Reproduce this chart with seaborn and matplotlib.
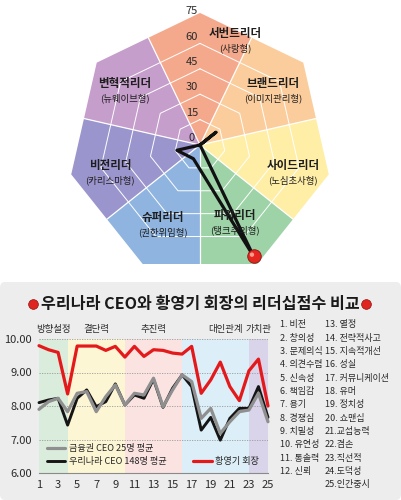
import numpy as np
import pandas as pd
import matplotlib
matplotlib.use("Agg")
import matplotlib.pyplot as plt
import seaborn as sns
from matplotlib.patches import Polygon, FancyBboxPatch
from matplotlib.lines import Line2D
from matplotlib import font_manager
import matplotlib.transforms as mtransforms

# ---------------- data ----------------
radar_types = ["서번트리더", "브랜드리더", "사이드리더", "파워리더", "슈퍼리더", "비전리더", "변혁적리더"]
radar_subtypes = ["(사랑형)", "(이미지관리형)", "(노심초사형)", "(탱크주의형)", "(권한위임형)", "(카리스마형)", "(뉴웨이브형)"]
radar_colors = ["#F5A98C", "#FBCD9C", "#FFEEA6", "#9ED3A8", "#8FB4DF", "#9B95CD", "#C59ECB"]
radar_values = [0, 12, 0, 73, 9, 14, 0]
radar_ticks = [0, 15, 30, 45, 60, 75]

items = list(range(1, 26))
score_chairman = [9.80, 9.68, 9.60, 8.36, 9.79, 9.79, 9.79, 9.66, 9.78, 9.46, 9.78, 9.48, 9.68,
                  9.66, 9.58, 9.55, 9.78, 8.38, 8.78, 9.31, 8.58, 8.16, 9.05, 9.40, 8.00]
score_finance = [7.90, 8.13, 8.23, 7.83, 8.38, 8.43, 7.83, 8.28, 8.63, 8.03, 8.38, 8.33, 8.83,
                 7.98, 8.48, 8.93, 8.73, 7.63, 7.93, 7.18, 7.53, 7.83, 7.88, 8.38, 7.53]
score_korea = [8.10, 8.18, 8.23, 7.43, 8.23, 8.48, 7.98, 8.13, 8.66, 8.03, 8.33, 8.23, 8.80,
               7.96, 8.53, 8.93, 8.58, 7.28, 7.66, 6.98, 7.63, 7.93, 7.93, 8.58, 7.66]
series_names = ["금융권 CEO 25명 평균", "우리나라 CEO 148명 평균", "황영기 회장"]

groups = ["방향설정", "결단력", "추진력", "대인관계", "가치관"]
group_bounds = [1, 4, 10, 16, 23, 25]
group_colors = ["#DAECDC", "#FDF6D4", "#FBE3E2", "#DCEEF7", "#D9D4EA"]

item_names = ["1. 비전", "2. 창의성", "3. 문제의식", "4. 의견수렴", "5. 신속성", "6. 책임감",
              "7. 용기", "8. 경쟁심", "9. 치밀성", "10. 유연성", "11. 통솔력", "12. 신뢰",
              "13. 열정", "14. 전략적사고", "15. 지속적개선", "16. 성실", "17. 커뮤니케이션",
              "18. 유머", "19. 정치성", "20. 쇼맨십", "21.교섭능력", "22.겸손", "23.직선적",
              "24.도덕성", "25.인간중시"]

title_text = "우리나라 CEO와 황영기 회장의 리더십점수 비교"

# ---------------- style ----------------
sns.set_theme(style="white")
plt.rcParams["font.family"] = ["Noto Sans CJK KR", "DejaVu Sans"]
names = {f.name for f in font_manager.fontManager.ttflist}
num_font = ["Liberation Sans Narrow", "Noto Sans CJK KR"] if "Liberation Sans Narrow" in names else ["Noto Sans CJK KR"]
TXT = "#2a2a2a"

W, H = 401, 500
fig = plt.figure(figsize=(W / 100, H / 100), dpi=100)
fig.patch.set_facecolor("white")

# ---------------- radar (top) ----------------
s = 127 / 75.0  # px per unit
cx, cy = 200, 145  # center in px (from top-left)
ax_r = fig.add_axes([0, (H - 280) / H, 1, 280 / H])
ax_r.set_xlim(-cx / s, (W - cx) / s)
ax_r.set_ylim(-(280 - cy) / s, cy / s)
ax_r.axis("off")

n = len(radar_types)
ang = np.deg2rad(90 - np.arange(n) * 360.0 / n)
verts = np.c_[np.cos(ang), np.sin(ang)]
mids = (verts + np.roll(verts, -1, axis=0)) / 2.0
R_out = 78
for k in range(n):
    poly = [(0, 0), mids[k - 1] * R_out, verts[k] * R_out, mids[k] * R_out]
    ax_r.add_patch(Polygon(poly, closed=True, fc=radar_colors[k], ec="none", zorder=1))
for r in radar_ticks[1:-1]:
    ring = np.vstack([verts, verts[:1]]) * r
    ax_r.plot(ring[:, 0], ring[:, 1], color="white", lw=0.7, zorder=2)
for k in range(n):
    ax_r.plot([0, mids[k, 0] * R_out], [0, mids[k, 1] * R_out], color="white", lw=0.9, zorder=2)
for t in radar_ticks:
    ax_r.text(-4.7, t + 4.0, str(t), ha="center", va="center", fontsize=8,
              color=TXT, family=num_font, zorder=6)

# data polygon
vals = np.array(radar_values, dtype=float)
pts = verts * vals[:, None]
closed = np.vstack([pts, pts[:1]])
ax_r.plot(closed[:, 0], closed[:, 1], color="#111111", lw=2.3, solid_joinstyle="round", zorder=4)
imax = int(np.argmax(vals))
ax_r.scatter([pts[imax, 0]], [pts[imax, 1]], s=95, color="#E32620", edgecolors="#8E1410",
             linewidths=0.6, zorder=7)
ax_r.scatter([pts[imax, 0] - 1.0], [pts[imax, 1] + 1.0], s=10, color="#FF9C8C",
             edgecolors="none", zorder=8)

# label offsets (px from center; x right, y up)
lab_px = [(35, 112), (73, 62), (93, -20), (35, -70), (-37, -72), (-90, -20), (-75, 62)]
for k in range(n):
    dx, dy = lab_px[k]
    ax_r.text(dx / s, dy / s, radar_types[k], ha="center", va="center", fontsize=8.3,
              fontweight="bold", color="#1e1e1e", zorder=6)
    ax_r.text(dx / s, (dy - 15) / s, radar_subtypes[k], ha="center", va="center", fontsize=6.8,
              color="#1e1e1e", zorder=6)

# ---------------- bottom panel ----------------
panel = FancyBboxPatch((0.0, 0.0), 1.0, 218 / H, boxstyle="round,pad=0,rounding_size=0.012",
                       transform=fig.transFigure, fc="#EDEDED", ec="none", zorder=-10)
fig.patches.append(panel)

ty = 1 - 304 / H
fig.text(200 / W, ty, title_text, ha="center", va="center", fontsize=11.6,
         fontweight="bold", color="#1a1a1a")
for bx in (33, 366):
    fig.add_artist(Line2D([bx / W], [ty], marker="o", ms=7, mfc="#E02420", mec="#8E1410",
                          mew=0.5, transform=fig.transFigure))

# ---------------- line chart ----------------
ax = fig.add_axes([39 / W, 27 / H, 229 / W, 134 / H])
ax.set_facecolor("none")
group_label_shift = [0, 0, 0, 1.0, 0]
trans = mtransforms.blended_transform_factory(ax.transData, ax.transAxes)
for i, g in enumerate(groups):
    b0, b1 = group_bounds[i], group_bounds[i + 1]
    ax.axvspan(b0, b1, color=group_colors[i], lw=0, zorder=0)
    ax.text((b0 + b1) / 2 + group_label_shift[i], 1.07, g, transform=trans, ha="center",
            va="center", fontsize=6.8, color=TXT)
for yv in [7, 8, 9, 10]:
    ax.axhline(yv, color="#9a9a9a", lw=0.6, ls=(0, (1.5, 1.5)), zorder=1)

df = pd.DataFrame({"item": items * 3,
                   "score": score_finance + score_korea + score_chairman,
                   "series": [series_names[0]] * 25 + [series_names[1]] * 25 + [series_names[2]] * 25})
line_styles = {series_names[1]: ("#151515", 2.1), series_names[0]: ("#8F8F8F", 2.3),
               series_names[2]: ("#E3191C", 2.3)}
for name in [series_names[1], series_names[0], series_names[2]]:
    c, lw = line_styles[name]
    sns.lineplot(data=df[df["series"] == name], x="item", y="score", color=c, lw=lw,
                 ax=ax, legend=False, zorder=3, clip_on=False)

ax.set_xlim(1, 25)
ax.set_ylim(6, 10)
ax.set_xticks(items[::2])
ax.set_yticks([6, 7, 8, 9, 10])
ax.set_yticklabels([f"{v:.2f}" for v in [6, 7, 8, 9, 10]])
ax.set_xlabel("")
ax.set_ylabel("")
for sp in ["top", "right", "left"]:
    ax.spines[sp].set_visible(False)
ax.spines["bottom"].set_color("#8a8a8a")
ax.spines["bottom"].set_linewidth(0.8)
ax.tick_params(axis="y", length=0, pad=5, labelsize=8, colors=TXT)
ax.tick_params(axis="x", length=3, width=0.6, color="#8a8a8a", pad=2, labelsize=8, labelcolor=TXT)
for lab in ax.get_xticklabels() + ax.get_yticklabels():
    lab.set_family(num_font)

h_gray = Line2D([], [], color="#8F8F8F", lw=2.3)
h_black = Line2D([], [], color="#151515", lw=2.1)
h_blank = Line2D([], [], color="none")
h_red = Line2D([], [], color="#E3191C", lw=2.3)
ax.legend([h_gray, h_black, h_blank, h_red],
          [series_names[0], series_names[1], "", series_names[2]],
          ncol=2, loc="lower left", bbox_to_anchor=(0.035, 0.05), frameon=False,
          fontsize=6.6, handlelength=2.0, handletextpad=0.4, columnspacing=2.9,
          labelspacing=0.45, borderpad=0, borderaxespad=0)

# item list
for i, nm in enumerate(item_names):
    col = 0 if i < 12 else 1
    row = i if i < 12 else i - 12
    x = (280 if col == 0 else 325) / W
    y = 1 - (325 + row * 13.3) / H
    fig.text(x, y, nm, ha="left", va="center", fontsize=6.5, color=TXT)

fig.savefig("out.png", dpi=100, facecolor="white")
